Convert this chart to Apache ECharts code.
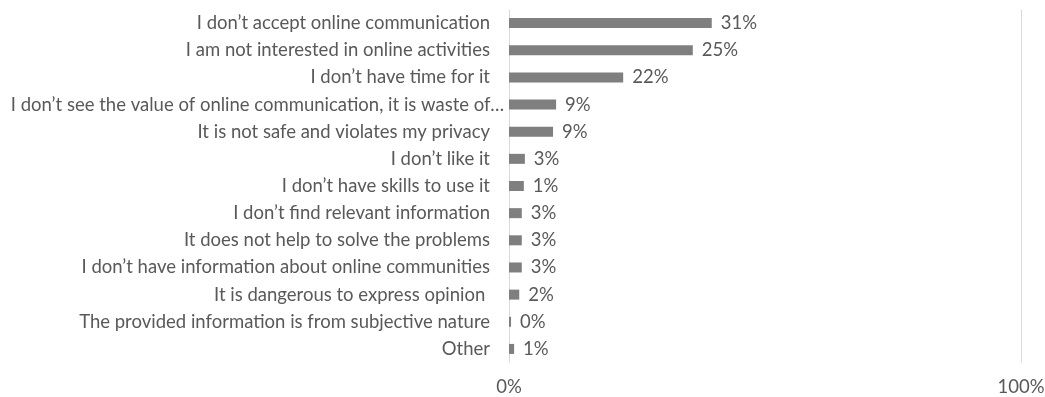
<!DOCTYPE html>
<html><head><meta charset="utf-8">
<script src="https://cdn.jsdelivr.net/npm/echarts@6/dist/echarts.min.js"></script>
<style>html,body{margin:0;padding:0;background:#fff}#c{width:1045px;height:397px}</style>
</head><body><div id="c"></div>
<script>
const categories = [
  "I don\u2019t accept online communication",
  "I am not interested in online activities",
  "I don\u2019t have time for it",
  "I don\u2019t see the value of online communication, it is waste of\u2026",
  "It is not safe and violates my privacy",
  "I don\u2019t like it",
  "I don\u2019t have skills to use it",
  "I don\u2019t find relevant information",
  "It does not help to solve the problems",
  "I don\u2019t have information about online communities",
  "It is dangerous to express opinion ",
  "The provided information is from subjective nature",
  "Other"
];
// bar lengths as drawn (percent)
const values = [39.6, 35.9, 22.3, 9.2, 8.6, 3.1, 2.9, 2.5, 2.5, 2.5, 2.0, 0.4, 1.0];
// data labels as printed
const valueLabels = ["31%", "25%", "22%", "9%", "9%", "3%", "1%", "3%", "3%", "3%", "2%", "0%", "1%"];
const xTicks = [0, 100];

const font = "Lato, 'Open Sans', sans-serif";
const chart = echarts.init(document.getElementById('c'), null, {renderer: 'canvas'});
chart.setOption({
  animation: false,
  grid: {left: 509, right: 24, top: 9.5, bottom: 34.5, containLabel: false, outerBoundsMode: 'none'},
  xAxis: {
    type: 'value', min: 0, max: 100, interval: 100,
    axisLine: {show: false}, axisTick: {show: false},
    splitLine: {show: true, lineStyle: {color: '#d9d9d9', width: 1}},
    axisLabel: {formatter: v => xTicks.includes(v) ? v + '%' : '', color: '#595959', fontSize: 18.5, fontFamily: font, margin: 15}
  },
  yAxis: {
    type: 'category', data: categories, inverse: true,
    axisLine: {show: false}, axisTick: {show: false},
    axisLabel: {color: '#595959', fontSize: 18.5, fontFamily: font, margin: 19, interval: 0,
      formatter: v => v.endsWith('\u2026') ? '{t|' + v + '}' : v,
      rich: {t: {color: '#595959', fontSize: 18.5, fontFamily: font, padding: [0, -14, 0, 0]}}}
  },
  series: [{
    type: 'bar', data: values, barWidth: 10,
    itemStyle: {color: '#7f7f7f'},
    label: {show: true, position: 'right', distance: 9, color: '#595959', fontSize: 18.5, fontFamily: font,
      formatter: p => valueLabels[p.dataIndex]}
  }]
});
</script></body></html>
